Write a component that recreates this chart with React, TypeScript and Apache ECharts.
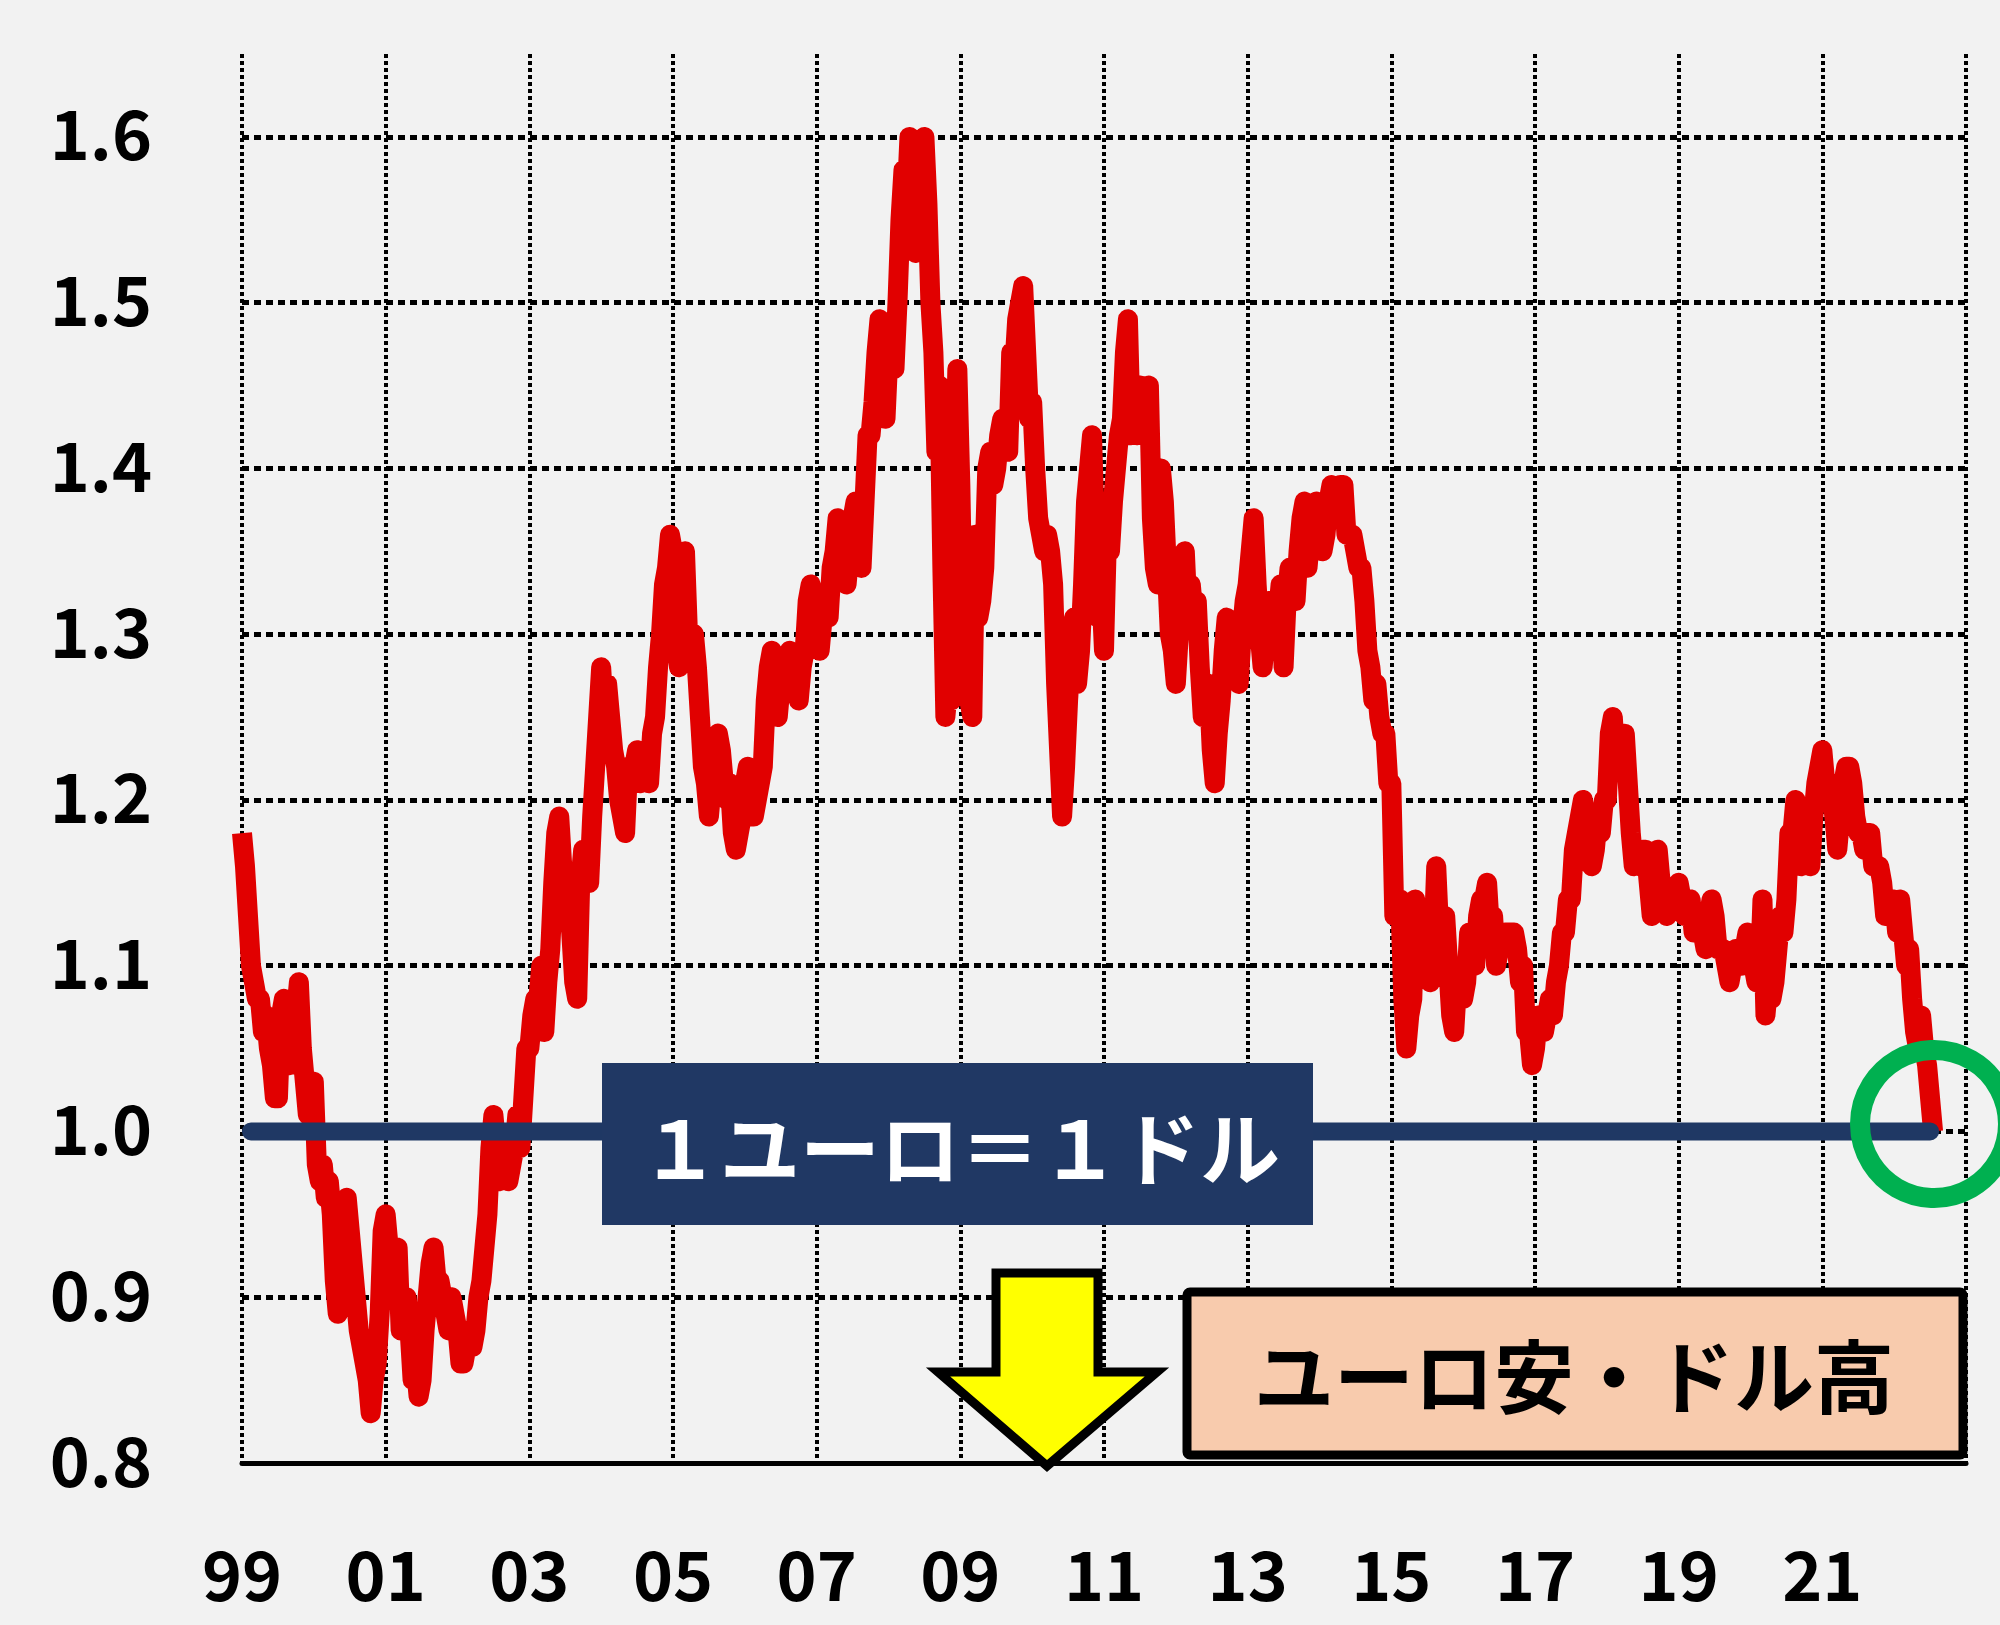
import React, { useEffect, useRef } from "react";
import * as echarts from "echarts";

// ---- data (EUR/USD, semi-monthly readings) ----
const START_YEAR = 1999;
const STEPS_PER_YEAR = 24;

const eur1999 = [1.18, 1.16, 1.13, 1.10, 1.09, 1.08, 1.08, 1.06, 1.07, 1.05, 1.04, 1.02, 1.02, 1.07, 1.08, 1.06, 1.04, 1.07, 1.07, 1.09, 1.05, 1.03, 1.01, 1.01];
const eur2000 = [1.03, 0.98, 0.97, 0.98, 0.96, 0.97, 0.95, 0.91, 0.89, 0.91, 0.95, 0.96, 0.94, 0.92, 0.90, 0.88, 0.87, 0.86, 0.85, 0.83, 0.85, 0.86, 0.89, 0.94];
const eur2001 = [0.95, 0.93, 0.92, 0.92, 0.93, 0.88, 0.89, 0.90, 0.88, 0.85, 0.86, 0.84, 0.85, 0.88, 0.90, 0.92, 0.93, 0.91, 0.91, 0.90, 0.89, 0.88, 0.90, 0.89];
const eur2002 = [0.88, 0.86, 0.86, 0.87, 0.88, 0.87, 0.88, 0.90, 0.91, 0.93, 0.95, 0.99, 1.01, 0.99, 0.97, 0.98, 0.98, 0.97, 0.98, 0.99, 1.01, 0.99, 1.02, 1.05];
const eur2003 = [1.05, 1.07, 1.08, 1.08, 1.10, 1.06, 1.09, 1.11, 1.15, 1.18, 1.19, 1.16, 1.15, 1.14, 1.12, 1.09, 1.08, 1.15, 1.17, 1.16, 1.15, 1.19, 1.22, 1.25];
const eur2004 = [1.28, 1.25, 1.27, 1.25, 1.23, 1.22, 1.20, 1.19, 1.18, 1.22, 1.21, 1.22, 1.23, 1.21, 1.22, 1.23, 1.21, 1.24, 1.25, 1.28, 1.30, 1.33, 1.34, 1.36];
const eur2005 = [1.35, 1.30, 1.28, 1.31, 1.35, 1.30, 1.29, 1.30, 1.28, 1.25, 1.22, 1.21, 1.19, 1.21, 1.23, 1.24, 1.23, 1.21, 1.20, 1.21, 1.18, 1.17, 1.18, 1.19];
const eur2006 = [1.21, 1.22, 1.19, 1.19, 1.20, 1.21, 1.22, 1.26, 1.28, 1.29, 1.26, 1.25, 1.27, 1.28, 1.28, 1.29, 1.27, 1.27, 1.26, 1.28, 1.29, 1.32, 1.33, 1.32];
const eur2007 = [1.32, 1.29, 1.31, 1.32, 1.31, 1.34, 1.35, 1.37, 1.35, 1.34, 1.33, 1.35, 1.37, 1.38, 1.36, 1.34, 1.38, 1.42, 1.42, 1.44, 1.47, 1.49, 1.46, 1.43];
const eur2008 = [1.47, 1.48, 1.46, 1.50, 1.55, 1.58, 1.56, 1.60, 1.55, 1.53, 1.56, 1.58, 1.60, 1.56, 1.50, 1.47, 1.41, 1.45, 1.34, 1.25, 1.27, 1.26, 1.38, 1.46];
const eur2009 = [1.39, 1.29, 1.28, 1.26, 1.25, 1.36, 1.31, 1.32, 1.34, 1.40, 1.41, 1.39, 1.40, 1.42, 1.43, 1.42, 1.41, 1.47, 1.46, 1.49, 1.50, 1.51, 1.47, 1.43];
const eur2010 = [1.44, 1.40, 1.37, 1.36, 1.35, 1.36, 1.35, 1.33, 1.27, 1.23, 1.19, 1.22, 1.26, 1.29, 1.31, 1.27, 1.29, 1.33, 1.38, 1.40, 1.42, 1.36, 1.31, 1.33];
const eur2011 = [1.29, 1.36, 1.35, 1.38, 1.40, 1.42, 1.43, 1.47, 1.49, 1.42, 1.44, 1.42, 1.45, 1.42, 1.44, 1.45, 1.37, 1.34, 1.33, 1.40, 1.38, 1.34, 1.30, 1.29];
const eur2012 = [1.27, 1.30, 1.32, 1.35, 1.31, 1.33, 1.31, 1.32, 1.28, 1.25, 1.26, 1.27, 1.23, 1.21, 1.24, 1.26, 1.29, 1.31, 1.29, 1.30, 1.28, 1.27, 1.30, 1.32];
const eur2013 = [1.33, 1.35, 1.37, 1.33, 1.30, 1.28, 1.30, 1.32, 1.30, 1.29, 1.31, 1.33, 1.28, 1.32, 1.34, 1.33, 1.32, 1.35, 1.37, 1.38, 1.34, 1.36, 1.37, 1.38];
const eur2014 = [1.37, 1.35, 1.36, 1.38, 1.39, 1.38, 1.38, 1.39, 1.39, 1.36, 1.36, 1.36, 1.35, 1.34, 1.34, 1.32, 1.29, 1.28, 1.26, 1.27, 1.25, 1.24, 1.24, 1.21];
const eur2015 = [1.21, 1.13, 1.13, 1.14, 1.08, 1.05, 1.07, 1.08, 1.14, 1.11, 1.12, 1.13, 1.10, 1.09, 1.11, 1.16, 1.12, 1.13, 1.13, 1.10, 1.07, 1.06, 1.09, 1.09];
const eur2016 = [1.08, 1.09, 1.12, 1.11, 1.10, 1.13, 1.14, 1.14, 1.15, 1.12, 1.13, 1.10, 1.11, 1.11, 1.12, 1.12, 1.12, 1.12, 1.11, 1.09, 1.10, 1.06, 1.06, 1.04];
const eur2017 = [1.05, 1.07, 1.07, 1.06, 1.07, 1.08, 1.07, 1.09, 1.10, 1.12, 1.12, 1.14, 1.14, 1.17, 1.18, 1.19, 1.20, 1.19, 1.18, 1.16, 1.17, 1.19, 1.18, 1.20];
const eur2018 = [1.20, 1.24, 1.25, 1.22, 1.23, 1.24, 1.24, 1.21, 1.18, 1.16, 1.17, 1.16, 1.17, 1.17, 1.15, 1.13, 1.16, 1.17, 1.15, 1.14, 1.13, 1.14, 1.14, 1.14];
const eur2019 = [1.15, 1.14, 1.13, 1.13, 1.14, 1.12, 1.13, 1.12, 1.12, 1.11, 1.13, 1.14, 1.13, 1.11, 1.11, 1.11, 1.10, 1.09, 1.10, 1.11, 1.10, 1.10, 1.11, 1.12];
const eur2020 = [1.11, 1.10, 1.09, 1.09, 1.14, 1.07, 1.09, 1.08, 1.09, 1.11, 1.13, 1.12, 1.14, 1.18, 1.18, 1.20, 1.18, 1.16, 1.18, 1.17, 1.16, 1.19, 1.21, 1.22];
const eur2021 = [1.23, 1.21, 1.20, 1.21, 1.19, 1.17, 1.19, 1.21, 1.22, 1.22, 1.21, 1.19, 1.18, 1.18, 1.17, 1.18, 1.18, 1.16, 1.16, 1.16, 1.15, 1.13, 1.13, 1.14];
const eur2022 = [1.14, 1.12, 1.14, 1.12, 1.10, 1.11, 1.08, 1.06, 1.05, 1.07, 1.05, 1.04, 1.02, 1.00];

const yearly: [number, number[]][] = [
  [1999, eur1999], [2000, eur2000], [2001, eur2001], [2002, eur2002], [2003, eur2003],
  [2004, eur2004], [2005, eur2005], [2006, eur2006], [2007, eur2007], [2008, eur2008],
  [2009, eur2009], [2010, eur2010], [2011, eur2011], [2012, eur2012], [2013, eur2013],
  [2014, eur2014], [2015, eur2015], [2016, eur2016], [2017, eur2017], [2018, eur2018],
  [2019, eur2019], [2020, eur2020], [2021, eur2021], [2022, eur2022],
];

const xTickLabels = ["99", "01", "03", "05", "07", "09", "11", "13", "15", "17", "19", "21"];
const yTickLabels = ["0.8", "0.9", "1.0", "1.1", "1.2", "1.3", "1.4", "1.5", "1.6"];

const parityValue = 1.0;
const parityFromYear = 1999.125;
const parityToYear = 2022.5;

const parityLabel = "１ユーロ＝１ドル";
const trendLabel = "ユーロ安・ドル高";

const FONT = '"Noto Sans CJK JP", "Noto Sans", sans-serif';

export default function App() {
  const ref = useRef<HTMLDivElement>(null);

  useEffect(() => {
    if (!ref.current) return;
    const chart = echarts.init(ref.current, undefined, { renderer: "svg" });

    const lineData: [number, number][] = [];
    yearly.forEach(([year, vals]) => {
      vals.forEach((v, i) => lineData.push([year - START_YEAR + i / STEPS_PER_YEAR, v]));
    });

    const option: any = {
      animation: false,
      backgroundColor: "#F2F2F2",
      grid: { left: 242, right: 34, top: 54, bottom: 162, containLabel: false },
      xAxis: {
        type: "value",
        min: 0,
        max: 24,
        interval: 2,
        axisLine: { show: true, onZero: false, lineStyle: { color: "#000", width: 5 } },
        axisTick: { show: false },
        axisLabel: {
          margin: 74,
          fontSize: 68,
          fontWeight: "bold",
          fontFamily: FONT,
          color: "#000",
          showMaxLabel: false,
          formatter: (v: number) => xTickLabels[Math.round(v / 2)] ?? "",
        },
        splitLine: { show: true, lineStyle: { color: "#000", width: 4, type: [4, 3] } },
      },
      yAxis: {
        type: "value",
        min: 0.8,
        max: 1.65,
        interval: 0.1,
        axisLine: { show: false },
        axisTick: { show: false },
        axisLabel: {
          margin: 90,
          fontSize: 68,
          fontWeight: "bold",
          fontFamily: FONT,
          color: "#000",
          showMaxLabel: false,
          verticalAlign: "bottom",
          lineHeight: 12,
          formatter: (v: number) => yTickLabels[Math.round((v - 0.8) * 10)] ?? "",
        },
        splitLine: {
          show: true,
          showMinLine: false,
          showMaxLine: false,
          lineStyle: { color: "#000", width: 5, type: [7, 5] },
        },
      },
      series: [
        {
          type: "line",
          data: lineData,
          symbol: "none",
          z: 3,
          lineStyle: { color: "#E10000", width: 20, join: "round", cap: "butt" },
        },
        {
          type: "line",
          data: [
            [parityFromYear - START_YEAR, parityValue],
            [parityToYear - START_YEAR, parityValue],
          ],
          symbol: "none",
          z: 4,
          lineStyle: { color: "#1F3864", width: 18, cap: "round" },
        },
      ],
      graphic: [
        {
          type: "rect",
          z: 100,
          shape: { x: 602, y: 1063, width: 711, height: 162 },
          style: { fill: "#203864" },
        },
        {
          type: "text",
          z: 101,
          x: 960,
          y: 1144,
          style: {
            text: parityLabel,
            fill: "#FFFFFF",
            font: `bold 80px ${FONT}`,
            align: "center",
            verticalAlign: "middle",
            textAlign: "center",
            textVerticalAlign: "middle",
          },
        },
        {
          type: "rect",
          z: 100,
          shape: { x: 1187, y: 1292, width: 776, height: 163, r: 3 },
          style: { fill: "#F8CBAD", stroke: "#000000", lineWidth: 9 },
        },
        {
          type: "text",
          z: 101,
          x: 1574,
          y: 1372,
          style: {
            text: trendLabel,
            fill: "#000000",
            font: `bold 80px ${FONT}`,
            align: "center",
            verticalAlign: "middle",
            textAlign: "center",
            textVerticalAlign: "middle",
          },
        },
        {
          type: "polygon",
          z: 100,
          shape: {
            points: [
              [996, 1273],
              [1098, 1273],
              [1098, 1372],
              [1157, 1372],
              [1047, 1466],
              [938, 1372],
              [996, 1372],
            ],
          },
          style: { fill: "#FFFF00", stroke: "#000000", lineWidth: 9, lineJoin: "miter" },
        },
        {
          type: "circle",
          z: 102,
          shape: { cx: 1934, cy: 1124, r: 74 },
          style: { fill: "none", stroke: "#00B050", lineWidth: 20 },
        },
      ],
    };

    chart.setOption(option);
    return () => chart.dispose();
  }, []);

  return (
    <div
      ref={ref}
      style={{ position: "fixed", left: 0, top: 0, width: 2000, height: 1625 }}
    />
  );
}
